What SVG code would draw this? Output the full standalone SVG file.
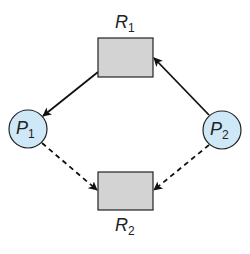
<svg xmlns="http://www.w3.org/2000/svg" width="250" height="254" viewBox="0 0 250 254">
<style>
.res{fill:#d3d3d3;stroke:#222;stroke-width:1.2}
.proc{fill:#cfe8f7;stroke:#222;stroke-width:1.2}
.lbl{font-family:"Liberation Sans",Arial,sans-serif;font-style:italic;font-size:18px;fill:#222}
.sub{font-style:normal;font-size:12px}
.edge{stroke:#111;stroke-width:1.8;fill:none}
.dash{stroke-dasharray:5,4}
</style>
<defs>
<marker id="ah" viewBox="0 0 10 10" refX="9" refY="5" markerWidth="9" markerHeight="9" markerUnits="userSpaceOnUse" orient="auto">
<path d="M0,0 L10,5 L0,10 L2.5,5 Z" fill="#111"/>
</marker>
</defs>
<g id="connectors">
<line class="edge" x1="98" y1="72" x2="43" y2="116" marker-end="url(#ah)"/>
<line class="edge" x1="209" y1="115" x2="154" y2="58" marker-end="url(#ah)"/>
<line class="edge dash" x1="42" y1="143" x2="97" y2="190" marker-end="url(#ah)"/>
<line class="edge dash" x1="209" y1="145" x2="154" y2="190" marker-end="url(#ah)"/>
</g>
<g id="R1">
<rect class="res" x="98" y="38" width="55" height="39"/>
<text class="lbl" x="115" y="28">R<tspan class="sub" dy="4">1</tspan></text>
</g>
<g id="R2">
<rect class="res" x="98" y="172" width="55" height="38"/>
<text class="lbl" x="115" y="231">R<tspan class="sub" dy="4">2</tspan></text>
</g>
<g id="P1">
<circle class="proc" cx="28" cy="129" r="19"/>
<text class="lbl" x="16" y="134">P<tspan class="sub" dy="4">1</tspan></text>
</g>
<g id="P2">
<circle class="proc" cx="222" cy="130" r="19"/>
<text class="lbl" x="210" y="135">P<tspan class="sub" dy="4">2</tspan></text>
</g>
</svg>
